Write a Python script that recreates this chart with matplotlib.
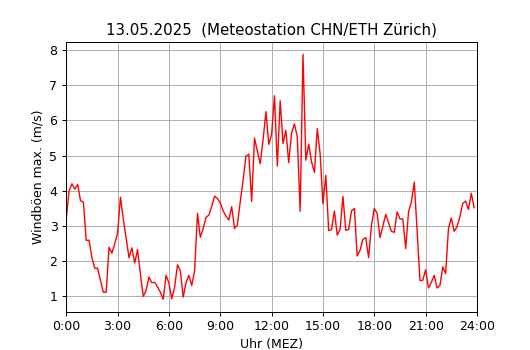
import numpy as np
import matplotlib
matplotlib.use('Agg')
import matplotlib.pyplot as plt

# 10-Minuten-Werte Windböen max. (m/s), 0:00 bis 23:50
boeen_nacht = [3.2, 4.0, 4.2, 4.05, 4.18, 3.72, 3.68, 2.59, 2.6, 2.1, 1.8, 1.8,
               1.45, 1.12, 1.12, 2.4, 2.23, 2.5, 2.8, 3.82, 3.2, 2.64, 2.1, 2.38,
               1.95, 2.33, 1.64, 1.0, 1.17, 1.55, 1.39, 1.4, 1.27, 1.12, 0.92, 1.6]
boeen_morgen = [1.38, 0.93, 1.27, 1.9, 1.73, 0.98, 1.4, 1.6, 1.31, 1.73, 3.36, 2.68,
                2.93, 3.25, 3.31, 3.55, 3.85, 3.78, 3.66, 3.43, 3.28, 3.17, 3.55, 2.93,
                3.03, 3.69, 4.3, 4.98, 5.04, 3.7, 5.5, 5.12, 4.77, 5.45, 6.25, 5.32]
boeen_mittag = [5.6, 6.7, 4.7, 6.56, 5.34, 5.72, 4.8, 5.65, 5.9, 5.54, 3.42, 7.88,
                4.87, 5.33, 4.82, 4.52, 5.77, 5.06, 3.63, 4.44, 2.87, 2.9, 3.43, 2.74,
                2.91, 3.84, 2.88, 2.9, 3.43, 3.5, 2.15, 2.31, 2.62, 2.67, 2.1, 3.02]
boeen_abend = [3.5, 3.36, 2.67, 3.0, 3.33, 3.09, 2.85, 2.82, 3.4, 3.2, 3.2, 2.36,
               3.4, 3.69, 4.25, 2.88, 1.45, 1.46, 1.76, 1.24, 1.4, 1.6, 1.24, 1.31,
               1.84, 1.65, 2.93, 3.23, 2.85, 2.98, 3.26, 3.64, 3.71, 3.47, 3.93, 3.52]

tick_stunden = [0, 3, 6, 9, 12, 15, 18, 21, 24]
tick_labels = ['0:00', '3:00', '6:00', '9:00', '12:00', '15:00', '18:00', '21:00', '24:00']

boeen = np.array(boeen_nacht + boeen_morgen + boeen_mittag + boeen_abend)
stunden = np.arange(len(boeen)) / 6.0

# 530x350 px, bei dpi 90 etwas kleinere Schrift
fig, ax = plt.subplots(figsize=(530 / 90, 350 / 90), dpi=90)
ax.plot(stunden, boeen, color='red', linewidth=1.1)
ax.set_xlim(0, 24)
ax.set_xticks(tick_stunden, tick_labels)
ax.set_yticks(range(1, 9))
ax.grid(True)
ax.set_title('13.05.2025  (Meteostation CHN/ETH Zürich)')
ax.set_xlabel('Uhr (MEZ)')
ax.set_ylabel('Windböen max. (m/s)')

fig.savefig('out.png')
